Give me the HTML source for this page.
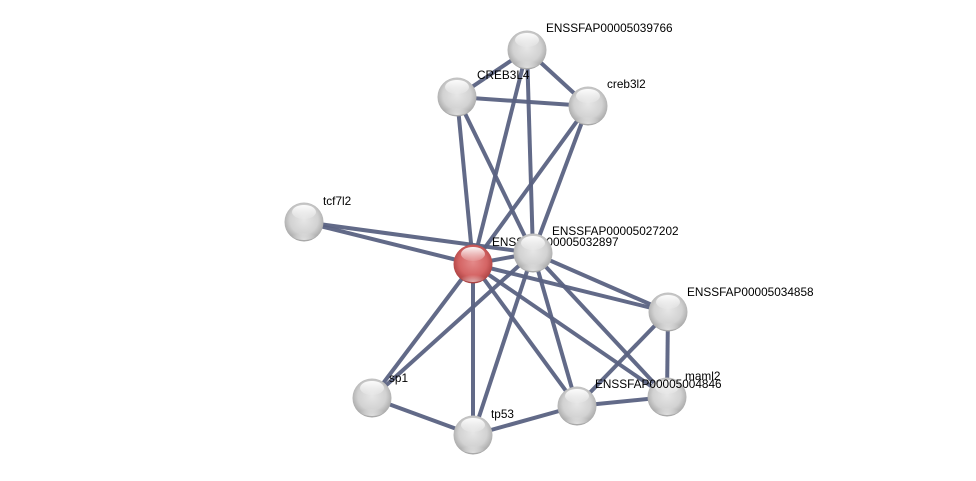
<!DOCTYPE html>
<html><head><meta charset="utf-8"><style>
html,body{margin:0;padding:0;background:#fff;}
svg{display:block;}
text{font-family:"Liberation Sans",sans-serif;font-size:11.8px;fill:#000;}
</style></head><body>
<svg width="976" height="481" viewBox="0 0 976 481" xmlns="http://www.w3.org/2000/svg">
<defs>
<radialGradient id="g" cx="0.5" cy="0.45" r="0.6">
<stop offset="0" stop-color="#e6e6e6"/>
<stop offset="0.6" stop-color="#d2d2d2"/>
<stop offset="0.85" stop-color="#b0b0b0"/>
<stop offset="1" stop-color="#8e8e8e"/>
</radialGradient>
<radialGradient id="r" cx="0.5" cy="0.45" r="0.6">
<stop offset="0" stop-color="#e48a8a"/>
<stop offset="0.6" stop-color="#d46464"/>
<stop offset="0.85" stop-color="#b44848"/>
<stop offset="1" stop-color="#8e2e2e"/>
</radialGradient>
<linearGradient id="hl" x1="0" y1="0" x2="0" y2="1">
<stop offset="0" stop-color="#fff" stop-opacity="0.95"/>
<stop offset="1" stop-color="#fff" stop-opacity="0.1"/>
</linearGradient>
<radialGradient id="bot" cx="0.5" cy="1" r="0.6">
<stop offset="0" stop-color="#fff" stop-opacity="0.6"/>
<stop offset="1" stop-color="#fff" stop-opacity="0"/>
</radialGradient>
<g id="hi">
<ellipse cx="0" cy="-10" rx="12" ry="7" fill="url(#hl)"/>
<ellipse cx="0" cy="12" rx="13" ry="6" fill="url(#bot)"/>
</g>
</defs>
<g stroke="#5a6282" stroke-width="4" stroke-opacity="0.95" fill="none">
<line x1="527" y1="50" x2="457" y2="97"/>
<line x1="527" y1="50" x2="588" y2="106"/>
<line x1="457" y1="97" x2="588" y2="106"/>
<line x1="527" y1="50" x2="473" y2="264"/>
<line x1="527" y1="50" x2="533" y2="253"/>
<line x1="457" y1="97" x2="473" y2="264"/>
<line x1="457" y1="97" x2="533" y2="253"/>
<line x1="588" y1="106" x2="473" y2="264"/>
<line x1="588" y1="106" x2="533" y2="253"/>
<line x1="304" y1="222" x2="473" y2="264"/>
<line x1="304" y1="222" x2="533" y2="253"/>
<line x1="473" y1="264" x2="533" y2="253"/>
<line x1="473" y1="264" x2="668" y2="312"/>
<line x1="533" y1="253" x2="668" y2="312"/>
<line x1="473" y1="264" x2="577" y2="406"/>
<line x1="533" y1="253" x2="577" y2="406"/>
<line x1="473" y1="264" x2="667" y2="397"/>
<line x1="533" y1="253" x2="667" y2="397"/>
<line x1="473" y1="264" x2="372" y2="398"/>
<line x1="533" y1="253" x2="372" y2="398"/>
<line x1="473" y1="264" x2="473" y2="435"/>
<line x1="533" y1="253" x2="473" y2="435"/>
<line x1="668" y1="312" x2="667" y2="397"/>
<line x1="668" y1="312" x2="577" y2="406"/>
<line x1="577" y1="406" x2="667" y2="397"/>
<line x1="372" y1="398" x2="473" y2="435"/>
<line x1="473" y1="435" x2="577" y2="406"/>
</g>

<!-- nodes -->
<g>
<circle cx="527" cy="50" r="19.5" fill="url(#g)"/><use href="#hi" x="527" y="50"/>
<text x="546" y="32">ENSSFAP00005039766</text>
<circle cx="457" cy="97" r="19.5" fill="url(#g)"/><use href="#hi" x="457" y="97"/>
<text x="477" y="79">CREB3L4</text>
<circle cx="588" cy="106" r="19.5" fill="url(#g)"/><use href="#hi" x="588" y="106"/>
<text x="607" y="88">creb3l2</text>
<circle cx="304" cy="222" r="19.5" fill="url(#g)"/><use href="#hi" x="304" y="222"/>
<text x="323" y="205">tcf7l2</text>
<circle cx="473" cy="264" r="19.5" fill="url(#r)"/><use href="#hi" x="473" y="264"/>
<text x="492" y="246">ENSSFAP00005032897</text>
<circle cx="533" cy="253" r="19.5" fill="url(#g)"/><use href="#hi" x="533" y="253"/>
<text x="552" y="235">ENSSFAP00005027202</text>
<circle cx="668" cy="312" r="19.5" fill="url(#g)"/><use href="#hi" x="668" y="312"/>
<text x="687" y="296">ENSSFAP00005034858</text>
<circle cx="667" cy="397" r="19.5" fill="url(#g)"/><use href="#hi" x="667" y="397"/>
<text x="685" y="380">maml2</text>
<circle cx="577" cy="406" r="19.5" fill="url(#g)"/><use href="#hi" x="577" y="406"/>
<text x="595" y="388">ENSSFAP00005004846</text>
<circle cx="372" cy="398" r="19.5" fill="url(#g)"/><use href="#hi" x="372" y="398"/>
<text x="389" y="382">sp1</text>
<circle cx="473" cy="435" r="19.5" fill="url(#g)"/><use href="#hi" x="473" y="435"/>
<text x="491" y="418">tp53</text>
</g>
</svg>
</body></html>
